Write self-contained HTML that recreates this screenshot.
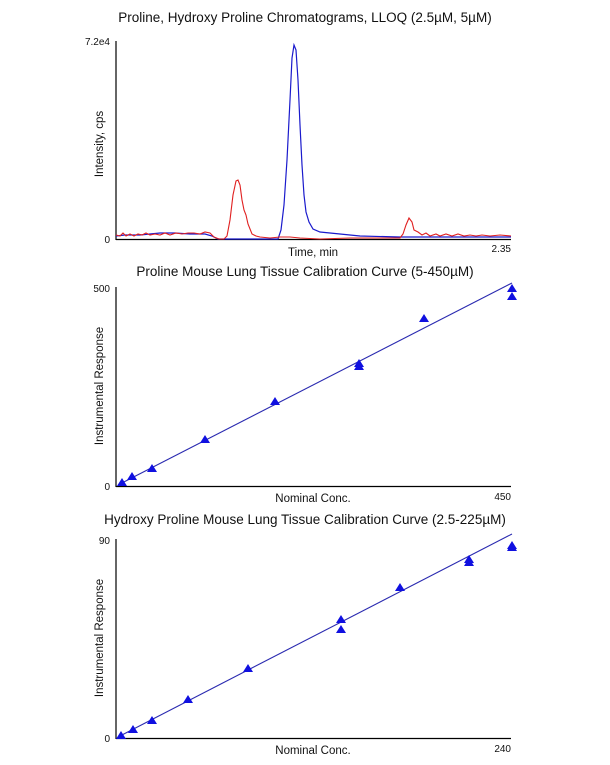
<!DOCTYPE html>
<html><head><style>body{margin:0;background:#fff}svg{display:block}text{font-family:"Liberation Sans",sans-serif;fill:#111}</style></head><body>
<svg width="610" height="765" viewBox="0 0 610 765">
<text x="305" y="22" font-size="13.5" text-anchor="middle">Proline, Hydroxy Proline Chromatograms, LLOQ (2.5µM, 5µM)</text>
<line x1="116" y1="41" x2="116" y2="240" stroke="#000" stroke-width="1.2"/>
<line x1="116" y1="239.5" x2="511" y2="239.5" stroke="#000" stroke-width="1.2"/>
<text x="110" y="45" font-size="10" text-anchor="end">7.2e4</text>
<text x="110" y="243" font-size="10" text-anchor="end">0</text>
<text x="511" y="252" font-size="10" text-anchor="end">2.35</text>
<text x="313" y="256" font-size="11.5" text-anchor="middle">Time, min</text>
<text transform="translate(103,144) rotate(-90)" font-size="11.5" text-anchor="middle">Intensity, cps</text>
<path d="M116,236 L125,235 L140,235 L150,234 L160,233 L175,233 L190,234 L205,234 L212,236 L218,239 L225,239 L278,239 L281,230 L284,205 L287,160 L290,100 L292,58 L294,45 L296,50 L298,80 L300,125 L302,165 L304,195 L306,212 L309,222 L313,229 L320,232 L340,234 L360,236 L400,237 L450,237 L511,237" fill="none" stroke="#1a1acc" stroke-width="1.2"/>
<path d="M116,235 L120,236 L123,233 L126,236 L130,234 L134,236 L138,234 L142,235 L146,233 L150,235 L155,234 L160,235 L165,233 L170,235 L176,233 L182,234 L188,233 L194,233 L200,234 L205,232 L210,233 L214,237 L219,239 L224,239 L227,236 L230,220 L233,195 L236,181 L238,180 L240,185 L242,200 L244,210 L246,215 L248,224 L252,234 L256,236 L260,237 L270,238 L280,237 L290,237 L300,238 L320,239 L350,238 L400,238 L403,234 L406,225 L409,218 L412,222 L414,230 L418,232 L422,235 L426,233 L430,236 L436,234 L440,236 L446,234 L452,236 L458,234 L464,236 L470,235 L476,236 L482,235 L490,236 L500,235 L511,236" fill="none" stroke="#e02020" stroke-width="1.1"/>

<text x="305" y="276" font-size="13.5" text-anchor="middle">Proline Mouse Lung Tissue Calibration Curve (5-450µM)</text>
<line x1="116" y1="287" x2="116" y2="487" stroke="#000" stroke-width="1.2"/>
<line x1="116" y1="486.5" x2="511" y2="486.5" stroke="#000" stroke-width="1.2"/>
<text x="110" y="292" font-size="10" text-anchor="end">500</text>
<text x="110" y="490" font-size="10" text-anchor="end">0</text>
<text x="511" y="500" font-size="10" text-anchor="end">450</text>
<text x="313" y="502" font-size="11.5" text-anchor="middle">Nominal Conc.</text>
<text transform="translate(103,386) rotate(-90)" font-size="11.5" text-anchor="middle">Instrumental Response</text>
<line x1="118" y1="485" x2="512" y2="283" stroke="#2a2ab0" stroke-width="1.1"/>
<g fill="#1010e0">
<path d="M122,478 l5,8 h-10z"/><path d="M132,472 l5,8 h-10z"/><path d="M152,464 l5,8 h-10z"/><path d="M205,435 l5,8 h-10z"/><path d="M275,397 l5,8 h-10z"/><path d="M359,359 l5,8 h-10z"/><path d="M359,362 l5,8 h-10z"/><path d="M424,314 l5,8 h-10z"/><path d="M512,284 l5,8 h-10z"/><path d="M512,292 l5,8 h-10z"/>
</g>

<text x="305" y="524" font-size="13.5" text-anchor="middle">Hydroxy Proline Mouse Lung Tissue Calibration Curve (2.5-225µM)</text>
<line x1="116" y1="539" x2="116" y2="739" stroke="#000" stroke-width="1.2"/>
<line x1="116" y1="738.5" x2="511" y2="738.5" stroke="#000" stroke-width="1.2"/>
<text x="110" y="544" font-size="10" text-anchor="end">90</text>
<text x="110" y="742" font-size="10" text-anchor="end">0</text>
<text x="511" y="752" font-size="10" text-anchor="end">240</text>
<text x="313" y="754" font-size="11.5" text-anchor="middle">Nominal Conc.</text>
<text transform="translate(103,638) rotate(-90)" font-size="11.5" text-anchor="middle">Instrumental Response</text>
<line x1="118" y1="737" x2="512" y2="534" stroke="#2a2ab0" stroke-width="1.1"/>
<g fill="#1010e0">
<path d="M121,731 l5,8 h-10z"/><path d="M133,725 l5,8 h-10z"/><path d="M152,716 l5,8 h-10z"/><path d="M188,695 l5,8 h-10z"/><path d="M248,664 l5,8 h-10z"/><path d="M341,615 l5,8 h-10z"/><path d="M341,625 l5,8 h-10z"/><path d="M400,583 l5,8 h-10z"/><path d="M469,555 l5,8 h-10z"/><path d="M469,558 l5,8 h-10z"/><path d="M512,541 l5,8 h-10z"/><path d="M512,543 l5,8 h-10z"/>
</g>
</svg>
</body></html>
